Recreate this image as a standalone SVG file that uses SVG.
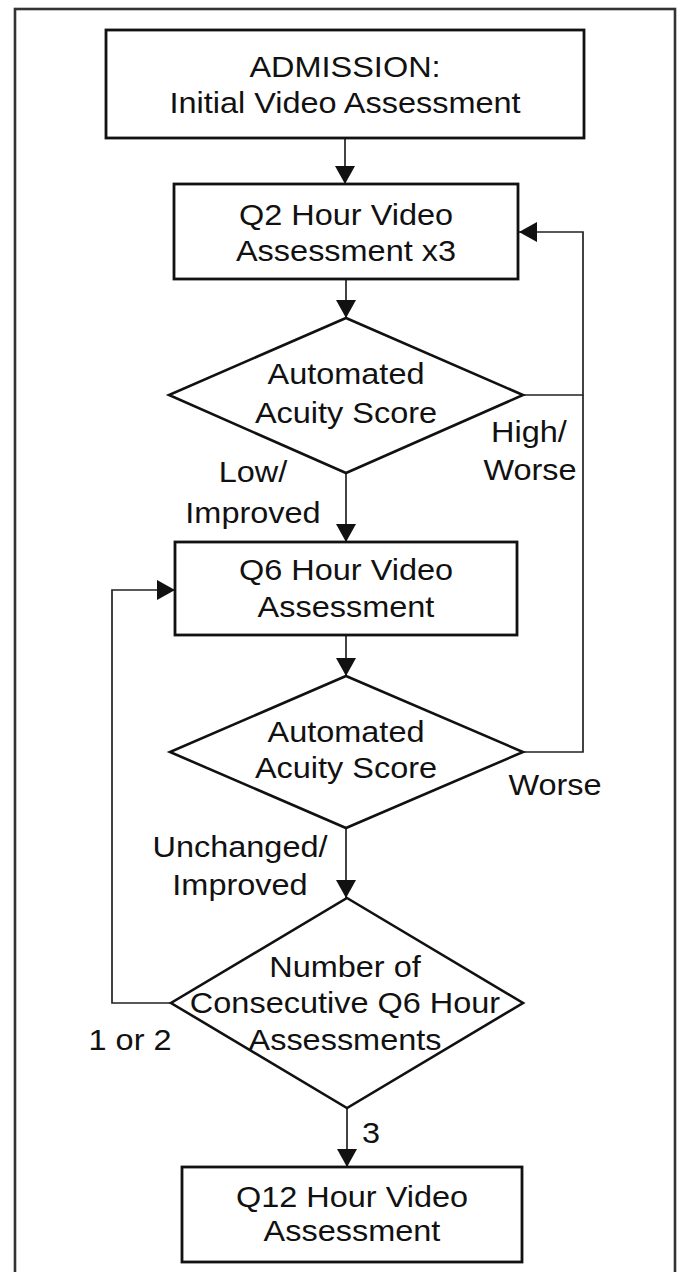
<svg xmlns="http://www.w3.org/2000/svg" width="679" height="1272" viewBox="0 0 679 1272">
  <style>
    .frame { fill: none; stroke: #333; stroke-width: 2.6; }
    .box { fill: #fff; stroke: #111; stroke-width: 2.8; }
    .dia { fill: #fff; stroke: #111; stroke-width: 2.6; }
    .conn { fill: none; stroke: #222; stroke-width: 1.7; }
    .t { font-family: "Liberation Sans", Arial, sans-serif; font-size: 29px; fill: #111; text-anchor: middle; }
  </style>
  <defs>
    <marker id="arrow" markerUnits="userSpaceOnUse" viewBox="0 0 18 20" refX="18" refY="10" markerWidth="18" markerHeight="20" orient="auto">
      <path d="M0,0 L18,10 L0,20 Z" fill="#111"/>
    </marker>
  </defs>
  <rect width="679" height="1272" fill="#fff"/>
  <!-- outer frame, open past the bottom edge -->
  <rect class="frame" x="15" y="9" width="660" height="1290"/>

  <g id="connectors">
    <path class="conn" d="M345,138 V184" marker-end="url(#arrow)"/>
    <path class="conn" d="M346,279 V318" marker-end="url(#arrow)"/>
    <path class="conn" d="M346,473 V542" marker-end="url(#arrow)"/>
    <path class="conn" d="M523,395 H583 V232 H519" marker-end="url(#arrow)"/>
    <path class="conn" d="M346,635 V676" marker-end="url(#arrow)"/>
    <path class="conn" d="M523,752 H583 V395"/>
    <path class="conn" d="M346,828 V898" marker-end="url(#arrow)"/>
    <path class="conn" d="M171,1003 H112 V590 H175" marker-end="url(#arrow)"/>
    <path class="conn" d="M347,1108 V1167" marker-end="url(#arrow)"/>
    <text class="t" transform="translate(529,0) scale(1.12,1)" y="442">High/</text>
    <text class="t" transform="translate(530,0) scale(1.12,1)" y="480">Worse</text>
    <text class="t" transform="translate(253,0) scale(1.12,1)" y="482">Low/</text>
    <text class="t" transform="translate(253,0) scale(1.12,1)" y="523">Improved</text>
    <text class="t" transform="translate(555,0) scale(1.12,1)" y="795">Worse</text>
    <text class="t" transform="translate(240,0) scale(1.12,1)" y="857">Unchanged/</text>
    <text class="t" transform="translate(240,0) scale(1.12,1)" y="895">Improved</text>
    <text class="t" transform="translate(130,0) scale(1.12,1)" y="1050">1 or 2</text>
    <text class="t" transform="translate(371,0) scale(1.12,1)" y="1143">3</text>
  </g>

  <g id="admission">
    <rect class="box" x="106" y="30" width="478" height="108"/>
    <text class="t" transform="translate(345,0) scale(1.12,1)" y="77">ADMISSION:</text>
    <text class="t" transform="translate(345,0) scale(1.12,1)" y="113">Initial Video Assessment</text>
  </g>

  <g id="q2">
    <rect class="box" x="174" y="184" width="344" height="95"/>
    <text class="t" transform="translate(346,0) scale(1.12,1)" y="225">Q2 Hour Video</text>
    <text class="t" transform="translate(346,0) scale(1.12,1)" y="261">Assessment x3</text>
  </g>

  <g id="score1">
    <polygon class="dia" points="346,318 523,395 346,473 169,395"/>
    <text class="t" transform="translate(346,0) scale(1.12,1)" y="384">Automated</text>
    <text class="t" transform="translate(346,0) scale(1.12,1)" y="423">Acuity Score</text>
  </g>

  <g id="q6">
    <rect class="box" x="175" y="542" width="342" height="93"/>
    <text class="t" transform="translate(346,0) scale(1.12,1)" y="580">Q6 Hour Video</text>
    <text class="t" transform="translate(346,0) scale(1.12,1)" y="617">Assessment</text>
  </g>

  <g id="score2">
    <polygon class="dia" points="346,676 523,752 346,828 170,752"/>
    <text class="t" transform="translate(346,0) scale(1.12,1)" y="742">Automated</text>
    <text class="t" transform="translate(346,0) scale(1.12,1)" y="778">Acuity Score</text>
  </g>

  <g id="count">
    <polygon class="dia" points="347,898 523,1003 347,1108 171,1003"/>
    <text class="t" transform="translate(345,0) scale(1.12,1)" y="977">Number of</text>
    <text class="t" transform="translate(345,0) scale(1.12,1)" y="1013">Consecutive Q6 Hour</text>
    <text class="t" transform="translate(345,0) scale(1.12,1)" y="1050">Assessments</text>
  </g>

  <g id="q12">
    <rect class="box" x="182" y="1167" width="340" height="95"/>
    <text class="t" transform="translate(352,0) scale(1.12,1)" y="1207">Q12 Hour Video</text>
    <text class="t" transform="translate(352,0) scale(1.12,1)" y="1241">Assessment</text>
  </g>
</svg>
